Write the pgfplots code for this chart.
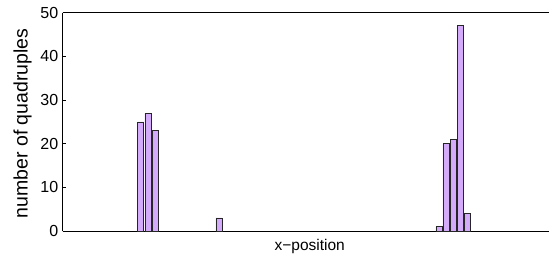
\documentclass[border=0pt]{standalone}
\usepackage{pgfplots}
\pgfplotsset{compat=1.18}
\usepackage{fontspec}
\setmainfont{Liberation Sans}
\definecolor{barfill}{RGB}{212,170,250}
\begin{document}
\begin{tikzpicture}[x=1pt,y=1pt]
\begin{axis}[
  scale only axis, width=494pt, height=218.3pt,
  at={(0,0)}, anchor=south west,
  xmin=0, xmax=69.6, ymin=0, ymax=50,
  axis lines*=left,
  axis line style={line width=0.9pt, black},
  tick align=inside,
  ytick={0,10,20,30,40,50},
  y tick style={black, line width=0.6pt},
  major tick length=3pt,
  minor tick length=1.2pt,
  xtick=\empty,
  minor xtick={0,1,...,69},
  minor x tick style={gray, line width=0.5pt},
  /pgf/number format/assume math mode=true,
  tick label style={font=\fontsize{16}{19}\selectfont},
  yticklabel style={xshift=-1pt},
  xlabel={x\char"2212 position},
  ylabel={number of quadruples},
  every axis x label/.style={at={(axis description cs:0.5,0)}, yshift=-19pt, anchor=base, font=\fontsize{15.5}{18}\selectfont},
  every axis y label/.style={at={(axis description cs:0,0.5)}, xshift=-35pt, yshift=-1.5pt, rotate=90, anchor=base, font=\fontsize{19.5}{22}\selectfont},
]
\addplot[ybar, bar width=0.85, fill=barfill, draw=black!85, line width=0.6pt]
  coordinates {(11,25) (12,27) (13,23) (22,3) (53,1) (54,20) (55,21) (56,47) (57,4)};
\draw[black, line width=0.9pt] (rel axis cs:0,1) -- (rel axis cs:1,1);
\end{axis}
\pgfresetboundingbox
\useasboundingbox (-62.7,-24) rectangle (486.3,231);
\end{tikzpicture}
\end{document}
